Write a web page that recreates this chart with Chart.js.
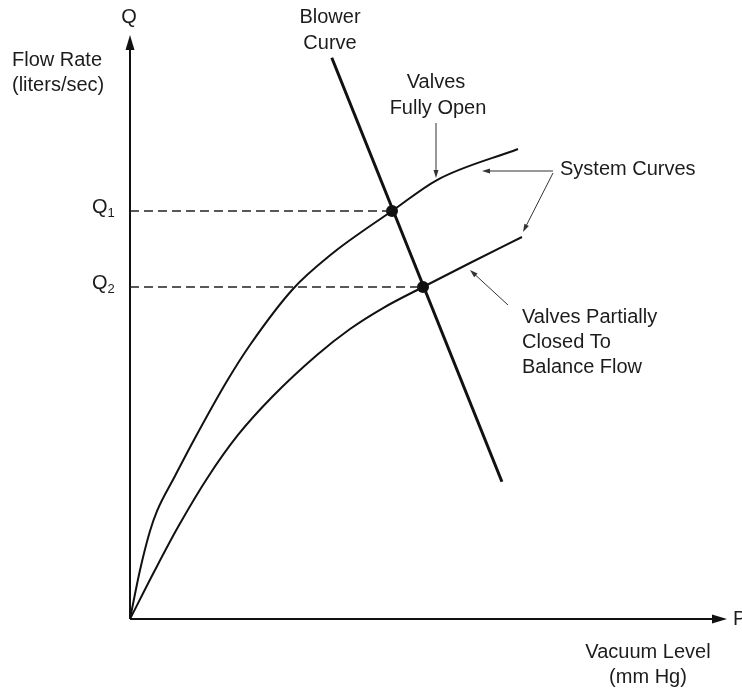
<!DOCTYPE html>
<html>
<head>
<meta charset="utf-8">
<script src="https://cdn.jsdelivr.net/npm/chart.js@4"></script>
<style>
  body { margin: 0; background: #fff; }
  #wrap { width: 742px; height: 691px; position: relative; }
</style>
</head>
<body>
<div id="wrap"><canvas id="chart"></canvas></div>
<script>
// system curve, valves fully open (vacuum level vs flow rate, arbitrary units 0-100)
const vacuumOpen = [0, 1.68, 3.35, 4.52, 7.54, 10.89, 16.25, 20.10, 27.30, 34.00, 38.53, 43.89, 51.42, 64.99];
const flowOpen = [0, 8.39, 15.07, 18.49, 24.49, 30.99, 40.75, 46.92, 56.51, 62.67, 66.10, 69.86, 75.17, 80.48];

// system curve, valves partially closed
const vacuumPartial = [0, 4.19, 8.04, 13.07, 18.09, 23.79, 31.32, 36.85, 42.38, 49.08, 56.95, 65.66];
const flowPartial = [0, 8.39, 15.75, 24.32, 31.51, 38.01, 45.21, 49.66, 53.25, 56.85, 60.96, 65.41];

// blower curve (straight line)
const vacuumBlower = [33.8, 62.3];
const flowBlower = [96.1, 23.5];

// operating points Q1 / Q2
const opVacuum = [43.89, 49.08];
const opFlow = [69.86, 56.85];
const opLabels = ['1', '2'];

const INK = '#111';
const TEXT = '#1c1c1c';
const FONT = 'Liberation Sans, Arial, Helvetica, sans-serif';

const toPoints = (xs, ys) => xs.map((v, i) => ({ x: v, y: ys[i] }));

function arrow(ctx, x1, y1, x2, y2, len, half, lw, color) {
    const a = Math.atan2(y2 - y1, x2 - x1);
    ctx.save();
    ctx.strokeStyle = color;
    ctx.fillStyle = color;
    ctx.lineWidth = lw;
    ctx.beginPath();
    ctx.moveTo(x1, y1);
    ctx.lineTo(x2 - Math.cos(a) * len * 0.6, y2 - Math.sin(a) * len * 0.6);
    ctx.stroke();
    ctx.beginPath();
    ctx.moveTo(x2, y2);
    ctx.lineTo(x2 - Math.cos(a) * len + Math.sin(a) * half, y2 - Math.sin(a) * len - Math.cos(a) * half);
    ctx.lineTo(x2 - Math.cos(a) * len - Math.sin(a) * half, y2 - Math.sin(a) * len + Math.cos(a) * half);
    ctx.closePath();
    ctx.fill();
    ctx.restore();
}

const axesPlugin = {
    id: 'axesPlugin',
    beforeDatasetsDraw(chart) {
        const { ctx, scales: { x, y } } = chart;
        const x0 = x.getPixelForValue(0), y0 = y.getPixelForValue(0);
        arrow(ctx, x0, y0, x0, y.getPixelForValue(100), 15, 4.5, 2, INK);
        arrow(ctx, x0, y0, x.getPixelForValue(100), y0, 15, 4.5, 2, INK);
    },
    afterDraw(chart) {
        const { ctx, scales: { x, y } } = chart;
        ctx.save();
        ctx.fillStyle = TEXT;
        ctx.textBaseline = 'middle';

        const text = (s, px, py, align) => {
            ctx.textAlign = align || 'left';
            ctx.fillText(s, px, py);
        };

        ctx.font = '20px ' + FONT;
        text('Q', 129, 17, 'center');
        text('P', 733, 619);
        text('Flow Rate', 12, 60);
        text('(liters/sec)', 12, 85);
        text('Blower', 330, 17, 'center');
        text('Curve', 330, 43, 'center');
        text('Valves', 436, 82, 'center');
        text('Fully Open', 438, 108, 'center');
        text('System Curves', 560, 169);
        text('Valves Partially', 522, 317);
        text('Closed To', 522, 342);
        text('Balance Flow', 522, 367);
        text('Vacuum Level', 648, 652, 'center');
        text('(mm Hg)', 648, 677, 'center');

        // Q1 / Q2 labels at the operating flow rates
        opFlow.forEach((q, i) => {
            const py = y.getPixelForValue(q);
            ctx.textBaseline = 'alphabetic';
            ctx.font = '20px ' + FONT;
            ctx.textAlign = 'left';
            ctx.fillText('Q', 92, py + 2);
            const w = ctx.measureText('Q').width;
            ctx.font = '13px ' + FONT;
            ctx.fillText(opLabels[i], 92 + w, py + 6);
        });

        // pointer arrows
        arrow(ctx, 436, 123, 436, 178, 8, 2.5, 1, '#333');
        arrow(ctx, 553, 171, 482, 171, 8, 2.5, 1, '#333');
        arrow(ctx, 553, 173, 523, 232, 8, 2.5, 1, '#333');
        arrow(ctx, 508, 305, 470, 270, 8, 2.5, 1, '#333');
        ctx.restore();
    }
};

new Chart(document.getElementById('chart'), {
    type: 'scatter',
    data: {
        datasets: [
            {
                data: toPoints(vacuumOpen, flowOpen),
                showLine: true, borderColor: INK, borderWidth: 2,
                pointRadius: 0, cubicInterpolationMode: 'monotone'
            },
            {
                data: toPoints(vacuumPartial, flowPartial),
                showLine: true, borderColor: INK, borderWidth: 2,
                pointRadius: 0, cubicInterpolationMode: 'monotone'
            },
            {
                data: toPoints(vacuumBlower, flowBlower),
                showLine: true, borderColor: INK, borderWidth: 3, pointRadius: 0
            },
            ...opFlow.map((q, i) => ({
                data: [{ x: 0, y: q }, { x: opVacuum[i], y: q }],
                showLine: true, borderColor: '#222', borderWidth: 1.6,
                borderDash: [9, 5], pointRadius: 0
            })),
            {
                data: toPoints(opVacuum, opFlow),
                pointRadius: 6, pointBackgroundColor: INK, pointBorderWidth: 0
            }
        ]
    },
    options: {
        responsive: true,
        maintainAspectRatio: false,
        animation: false,
        layout: { padding: { left: 130, right: 15, top: 35, bottom: 72 } },
        plugins: { legend: { display: false }, tooltip: { enabled: false } },
        scales: {
            x: { type: 'linear', min: 0, max: 100, display: false },
            y: { type: 'linear', min: 0, max: 100, display: false }
        },
        elements: { line: { clip: false } }
    },
    plugins: [axesPlugin]
});
</script>
</body>
</html>
